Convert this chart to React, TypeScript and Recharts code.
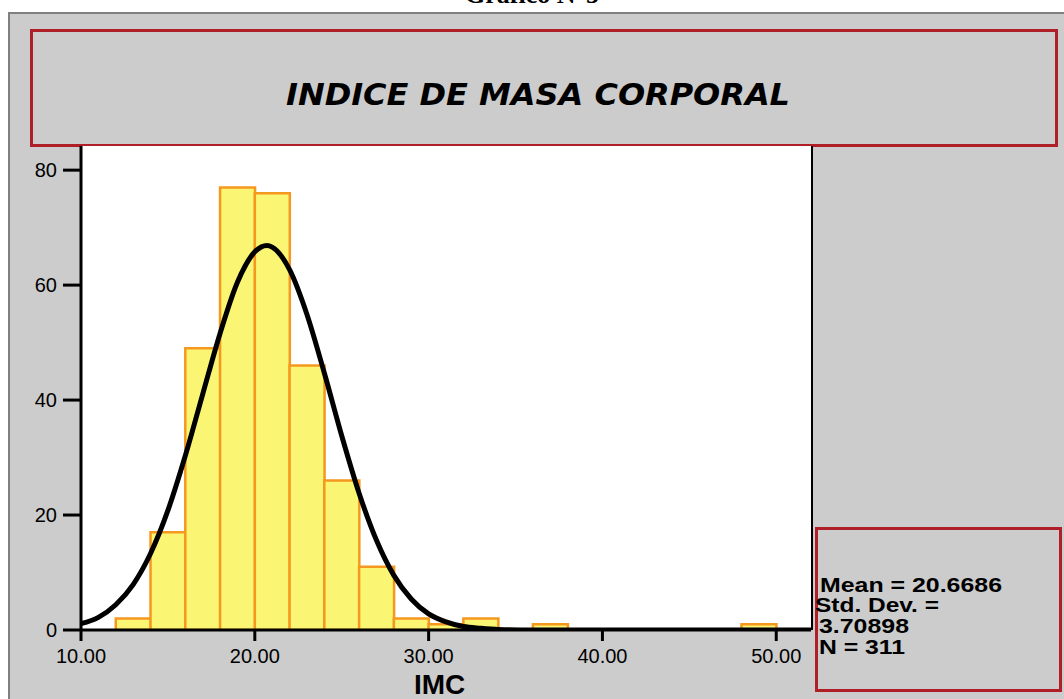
import { ComposedChart, Bar, Line, XAxis, YAxis } from "recharts";

// histogram bins (width 2) and counts
const binLabels = [
  "10-12", "12-14", "14-16", "16-18", "18-20", "20-22", "22-24",
  "24-26", "26-28", "28-30", "30-32", "32-34", "34-36", "36-38",
  "38-40", "40-42", "42-44", "44-46", "46-48", "48-50", "50-52"
];
const binCounts = [0, 2, 17, 49, 77, 76, 46, 26, 11, 2, 1, 2, 0, 1, 0, 0, 0, 0, 0, 1, 0];

// normal curve
const curveX = [10, 11, 12, 13, 14, 15, 16, 17, 18, 19, 20, 20.7, 21, 22, 23, 24, 25, 26, 27, 28, 29, 30, 31, 32, 33, 34, 36, 40, 46, 52];
const curveY = [1.1, 2.2, 4.4, 7.9, 13.3, 20.8, 30.3, 41.0, 51.6, 60.5, 65.8, 66.9, 66.6, 62.7, 54.9, 44.7, 33.8, 23.8, 15.6, 9.5, 5.4, 2.8, 1.4, 0.6, 0.3, 0.1, 0, 0, 0, 0];

const xTicks = [10, 20, 30, 40, 50];
const yTicks = [0, 20, 40, 60, 80];

const statLines = ["Mean = 20.6686", "Std. Dev. =", "3.70898", "N = 311"];

const barData = binLabels.map((bin, i) => ({ bin, count: binCounts[i] }));
const curveData = curveX.map((x, i) => ({ x, y: curveY[i] }));

const axisStroke = { stroke: "#000", strokeWidth: 3 };

export default function App() {
  return (
    <div style={{ position: "fixed", left: 0, top: 0, width: 1064, height: 699, overflow: "hidden", background: "#fff" }}>
      <div
        style={{
          position: "absolute", left: 0, right: 0, top: -18, textAlign: "center",
          fontFamily: "'Liberation Serif', serif", fontWeight: "bold", fontSize: 26, lineHeight: 1
        }}
      >
        Gráfico N°5
      </div>

      {/* gray frame */}
      <div
        style={{
          position: "absolute", left: 8, top: 12, width: 1100, height: 720,
          background: "#cccccc", borderLeft: "2px solid #808080", borderTop: "2px solid #808080"
        }}
      />

      {/* title box */}
      <div
        style={{
          position: "absolute", left: 30, top: 29, width: 1028, height: 118,
          border: "3px solid #b01e28", boxSizing: "border-box", background: "#cccccc"
        }}
      >
        <svg width={1022} height={112} style={{ position: "absolute", left: 0, top: 0 }}>
          <text
            x={253}
            y={73}
            textLength={504}
            lengthAdjust="spacingAndGlyphs"
            fontFamily="'DejaVu Sans Condensed', 'DejaVu Sans', sans-serif"
            fontWeight="bold"
            fontStyle="italic"
            fontSize={30}
            fill="#000"
          >
            INDICE DE MASA CORPORAL
          </text>
        </svg>
      </div>

      {/* plot background */}
      <div
        style={{
          position: "absolute", left: 81, top: 146, width: 730, height: 484,
          background: "#fff", borderRight: "2px solid #000"
        }}
      />

      <div style={{ position: "absolute", left: 0, top: 0 }}>
        <ComposedChart
          width={1064}
          height={699}
          data={barData}
          margin={{ top: 146, right: 253, left: 0, bottom: 29 }}
          barCategoryGap={0}
          barGap={0}
        >
          <XAxis xAxisId="cat" dataKey="bin" hide height={0} />
          <XAxis
            xAxisId="num"
            type="number"
            dataKey="x"
            domain={[10, 52]}
            ticks={xTicks}
            allowDataOverflow
            tickFormatter={(v) => Number(v).toFixed(2)}
            axisLine={axisStroke}
            tickLine={axisStroke}
            tickSize={11}
            tickMargin={8}
            height={40}
            tick={{ fill: "#000", fontSize: 20, fontFamily: "'Liberation Sans', Arial, sans-serif" }}
          />
          <YAxis
            type="number"
            domain={[0, 84.2]}
            ticks={yTicks}
            allowDataOverflow
            width={81}
            axisLine={axisStroke}
            tickLine={axisStroke}
            tickSize={18}
            tickMargin={6}
            tick={{ fill: "#000", fontSize: 20, fontFamily: "'Liberation Sans', Arial, sans-serif" }}
          />
          <Bar
            xAxisId="cat"
            dataKey="count"
            fill="#faf572"
            stroke="#f5981f"
            strokeWidth={2.5}
            isAnimationActive={false}
          />
          <Line
            xAxisId="num"
            data={curveData}
            dataKey="y"
            type="monotone"
            stroke="#000"
            strokeWidth={5}
            dot={false}
            activeDot={false}
            isAnimationActive={false}
          />
        </ComposedChart>
      </div>

      <div
        style={{
          position: "absolute", left: 414, top: 671, fontFamily: "'Liberation Sans', Arial, sans-serif",
          fontWeight: "bold", fontSize: 28, lineHeight: "28px"
        }}
      >
        IMC
      </div>

      {/* stats box */}
      <div
        style={{
          position: "absolute", left: 815, top: 527, width: 247, height: 165,
          border: "3px solid #b01e28", boxSizing: "border-box", background: "#cccccc"
        }}
      />
      <svg width={250} height={170} style={{ position: "absolute", left: 812, top: 520 }}>
        {statLines.map((s, i) => {
          const xs = [8, 3, 7, 7];
          const ys = [72, 92, 113, 134];
          const lens = [182, 124, 90, 86];
          return (
            <text
              key={i}
              x={xs[i]}
              y={ys[i]}
              textLength={lens[i]}
              lengthAdjust="spacingAndGlyphs"
              fontFamily="'Liberation Sans', Arial, sans-serif"
              fontWeight="bold"
              fontSize={21}
              fill="#000"
            >
              {s}
            </text>
          );
        })}
      </svg>
    </div>
  );
}
